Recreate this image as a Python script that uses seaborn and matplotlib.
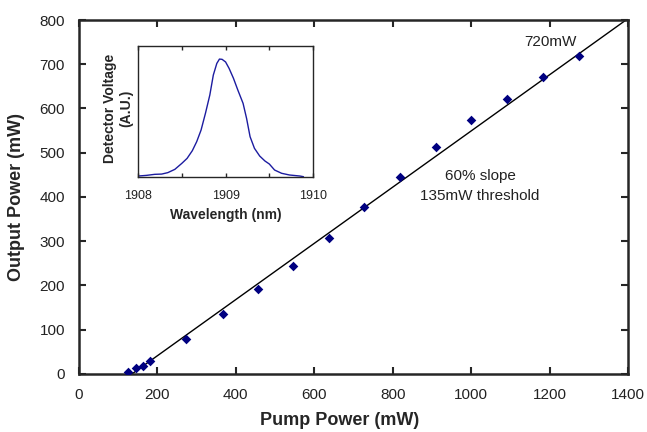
import numpy as np
import pandas as pd
import seaborn as sns
import matplotlib.pyplot as plt

# pump vs output power (mW)
pump = [126, 145, 164, 181, 273, 366, 457, 546, 638, 727, 819, 910, 1000, 1092, 1183, 1275]
output = [5, 13, 18, 29, 80, 136, 192, 244, 307, 377, 445, 513, 574, 621, 671, 719]

# linear fit line end points
fit_x = [135, 1395]
fit_y = [0, 800]

# inset spectrum (arb. units)
wl = [1908.0, 1908.095, 1908.19, 1908.27, 1908.34, 1908.42, 1908.5, 1908.56, 1908.62,
      1908.67, 1908.72, 1908.77, 1908.82, 1908.86, 1908.9, 1908.93, 1908.96, 1909.0,
      1909.04, 1909.09, 1909.14, 1909.2, 1909.24, 1909.28, 1909.33, 1909.39, 1909.45,
      1909.5, 1909.56, 1909.64, 1909.73, 1909.85, 1909.89]
volt = [0.005, 0.010, 0.018, 0.020, 0.031, 0.056, 0.102, 0.140, 0.199,
        0.268, 0.357, 0.485, 0.625, 0.778, 0.867, 0.900, 0.898, 0.878,
        0.829, 0.753, 0.663, 0.561, 0.446, 0.306, 0.217, 0.158, 0.120,
        0.097, 0.051, 0.026, 0.013, 0.005, 0.0]

sns.set_style("ticks")
plt.rcParams['font.family'] = ['Liberation Sans', 'DejaVu Sans']

df = pd.DataFrame({"pump": pump, "output": output})
spec = pd.DataFrame({"wl": wl, "v": volt})

fig = plt.figure(figsize=(6.47, 4.32), dpi=100)
ax = fig.add_axes([0.1221, 0.1343, 0.8485, 0.8194])

ax.plot(fit_x, fit_y, color="black", lw=1.0, zorder=2)
sns.scatterplot(data=df, x="pump", y="output", marker="D", s=24, color="#000080",
                edgecolor="#000080", linewidth=0, ax=ax, zorder=3)

ax.set_xlim(0, 1400)
ax.set_ylim(0, 800)
ax.set_xticks(range(0, 1401, 200))
ax.set_yticks(range(0, 801, 100))
ax.tick_params(direction="in", top=True, right=True, length=5, width=1.5, labelsize=11,
               labelcolor="#222222")
ax.tick_params(axis="x", pad=10)
ax.tick_params(axis="y", pad=10)
for s in ax.spines.values():
    s.set_linewidth(1.8)
ax.set_xlabel("Pump Power (mW)", fontsize=13, fontweight="bold")
ax.set_ylabel("Output Power (mW)", fontsize=13, fontweight="bold")
ax.xaxis.set_label_coords(0.474, -0.108)
ax.yaxis.set_label_coords(-0.098, 0.5)

ax.text(1201, 751, "720mW", ha="center", va="center", fontsize=11, color="#222222")
ax.text(1023, 447, "60% slope", ha="center", va="center", fontsize=11, color="#222222")
ax.text(1023, 402, "135mW threshold", ha="center", va="center", fontsize=11, color="#222222")

# inset
ins = fig.add_axes([0.2134, 0.591, 0.2705, 0.3025])
sns.lineplot(data=spec, x="wl", y="v", color="#1c1ca0", lw=1.0, ax=ins)
ins.set_xlim(1908, 1910)
ins.set_ylim(0, 1.0)
ins.set_xticks([1908, 1908.5, 1909, 1909.5, 1910])
ins.set_xticklabels(["1908", "", "1909", "", "1910"])
ins.set_yticks([])
ins.tick_params(direction="in", top=True, length=3, width=1, labelsize=9, pad=9.5,
                labelcolor="#222222")
for s in ins.spines.values():
    s.set_linewidth(1.0)
ins.set_xlabel("Wavelength (nm)", fontsize=10, fontweight="bold")
ins.set_ylabel("Detector Voltage\n(A.U.)", fontsize=10, fontweight="bold")
ins.xaxis.set_label_coords(0.5, -0.24)
ins.yaxis.set_label_coords(-0.03, 0.52)

fig.savefig("out.png", dpi=100)
